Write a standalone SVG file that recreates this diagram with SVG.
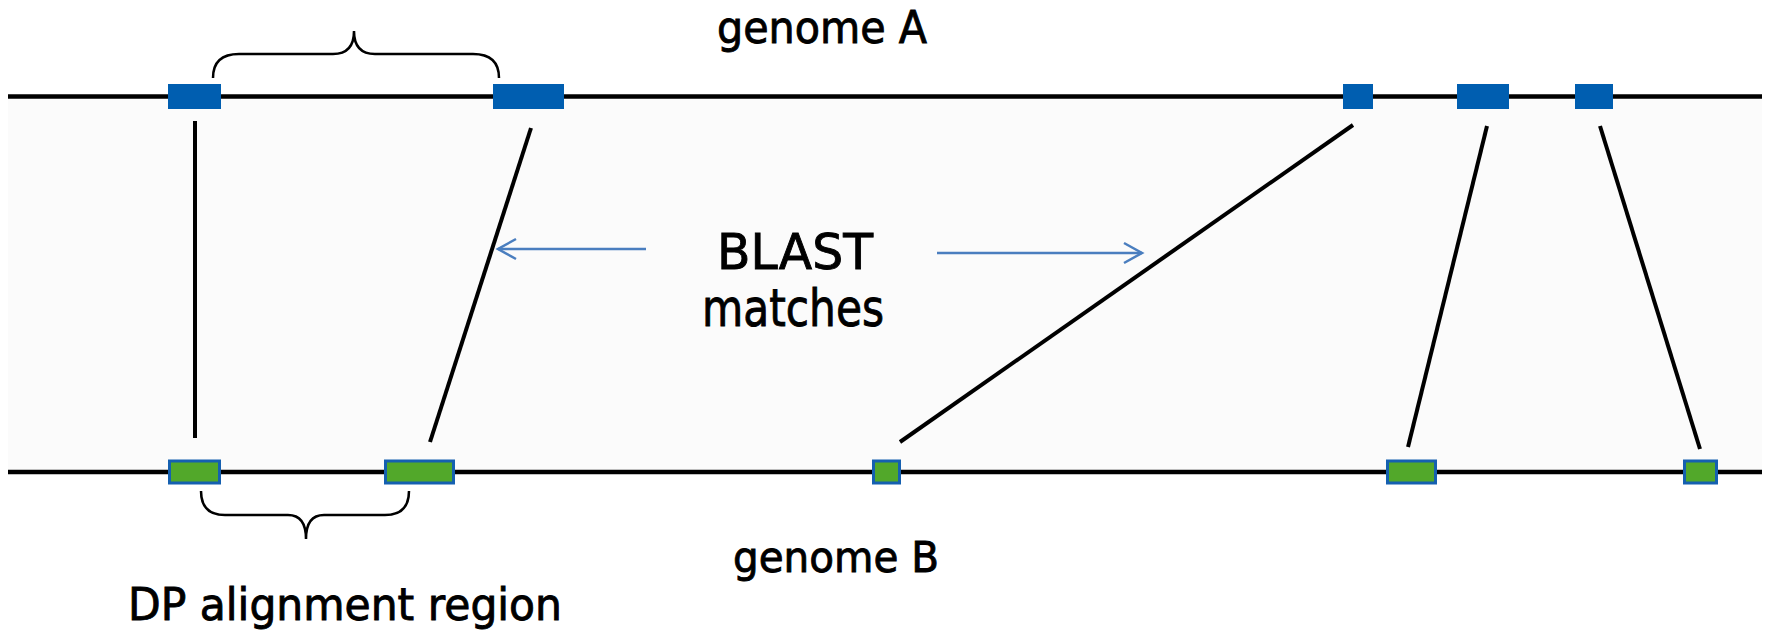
<svg xmlns="http://www.w3.org/2000/svg" width="1769" height="634" viewBox="0 0 1769 634">
  <style>
    .lbl { font-family: "Comic Sans MS", "DejaVu Sans", sans-serif; fill: #000; stroke: #000; stroke-width: 0.9; text-anchor: middle; }
    .genome { stroke: #000; stroke-width: 4.5; fill: none; }
    .segA { fill: #005EB0; }
    .segB { fill: #52A82A; stroke: #1560B0; stroke-width: 3; }
    .match { stroke: #000; stroke-width: 4; fill: none; stroke-linecap: butt; }
    .brace { stroke: #000; stroke-width: 2.5; fill: none; }
    .pointer { stroke: #4A7EBF; stroke-width: 2.5; fill: none; }
  </style>
  <defs>
    <marker id="chevron" markerUnits="userSpaceOnUse" markerWidth="24" markerHeight="26" refX="20" refY="12" orient="auto">
      <path d="M2,2 L20,12 L2,22" fill="none" stroke="#4A7EBF" stroke-width="2.5"/>
    </marker>
  </defs>

  <rect x="0" y="0" width="1769" height="634" fill="#fff"/>
  <!-- shaded band between the two genomes -->
  <rect x="8" y="97" width="1754" height="375" fill="#FBFBFB"/>

  <!-- genome backbones -->
  <g id="genomes">
    <line class="genome" x1="8" y1="96.5" x2="1762" y2="96.5"/>
    <line class="genome" x1="8" y1="472" x2="1762" y2="472"/>
  </g>

  <!-- BLAST match connectors -->
  <g id="connectors">
    <line class="match" x1="195" y1="121" x2="195" y2="438"/>
    <line class="match" x1="531" y1="128" x2="430" y2="442"/>
    <line class="match" x1="1353" y1="125" x2="900" y2="442"/>
    <line class="match" x1="1487" y1="126" x2="1408" y2="447"/>
    <line class="match" x1="1600" y1="126" x2="1700" y2="449"/>
    <line class="pointer" x1="646" y1="249" x2="498" y2="249" marker-end="url(#chevron)"/>
    <line class="pointer" x1="937" y1="253" x2="1142" y2="253" marker-end="url(#chevron)"/>
  </g>

  <!-- genome A segments -->
  <g id="segA1"><rect class="segA" x="168" y="84" width="53" height="25"/></g>
  <g id="segA2"><rect class="segA" x="493" y="84" width="71" height="25"/></g>
  <g id="segA3"><rect class="segA" x="1343" y="84" width="30" height="25"/></g>
  <g id="segA4"><rect class="segA" x="1457" y="84" width="52" height="25"/></g>
  <g id="segA5"><rect class="segA" x="1575" y="84" width="38" height="25"/></g>

  <!-- genome B segments -->
  <g id="segB1"><rect class="segB" x="169.5" y="461" width="50" height="22"/></g>
  <g id="segB2"><rect class="segB" x="385.5" y="461" width="68" height="22"/></g>
  <g id="segB3"><rect class="segB" x="873.5" y="461" width="26" height="22"/></g>
  <g id="segB4"><rect class="segB" x="1387.5" y="461" width="48" height="22"/></g>
  <g id="segB5"><rect class="segB" x="1684.5" y="461" width="32" height="22"/></g>

  <!-- braces marking the DP alignment region -->
  <g id="braceTop">
    <path class="brace" d="M213,78 Q213,54 239,54 L333,54 Q354,54 354,31 Q354,54 375,54 L473,54 Q499,54 499,78"/>
  </g>
  <g id="braceBottom">
    <path class="brace" d="M201,491 Q201,515 225,515 L288,515 Q306,515 306,539 Q306,515 324,515 L385,515 Q409,515 409,491"/>
  </g>

  <!-- labels -->
  <g id="labelGenomeA"><text class="lbl" x="822" y="43" font-size="44" textLength="210" lengthAdjust="spacingAndGlyphs">genome A</text></g>
  <g id="labelGenomeB"><text class="lbl" x="836" y="572" font-size="43" textLength="206" lengthAdjust="spacingAndGlyphs">genome B</text></g>
  <g id="labelBlast">
    <text class="lbl" x="795" y="269" font-size="49" textLength="156" lengthAdjust="spacingAndGlyphs">BLAST</text>
    <text class="lbl" x="793" y="326" font-size="51" textLength="182" lengthAdjust="spacingAndGlyphs">matches</text>
  </g>
  <g id="labelDP"><text class="lbl" x="345" y="620" font-size="44" textLength="434" lengthAdjust="spacingAndGlyphs">DP alignment region</text></g>
</svg>
